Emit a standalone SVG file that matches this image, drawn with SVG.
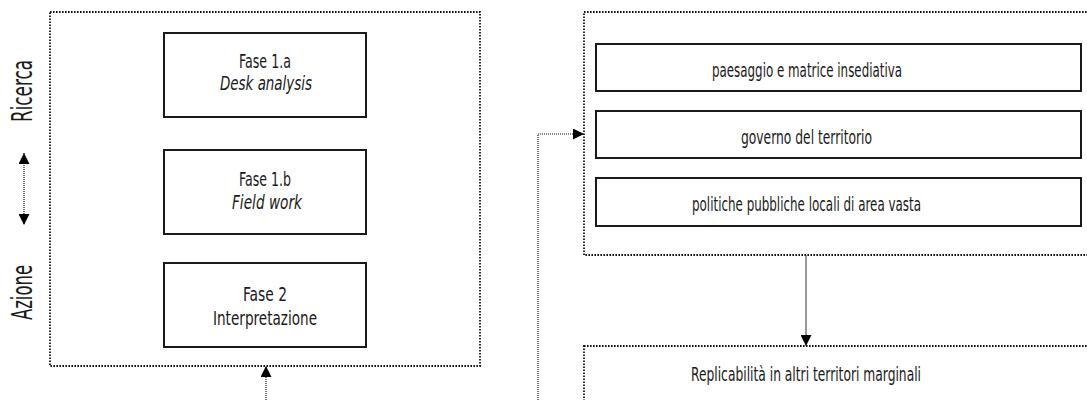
<svg xmlns="http://www.w3.org/2000/svg" width="1087" height="400" viewBox="0 0 1087 400">
<defs>
<style>
.grp{fill:none;stroke:#111;stroke-width:1.8;stroke-dasharray:1.6 1.4}
.box{fill:#fff;stroke:#1a1a1a;stroke-width:2}
.t{font-family:"Liberation Sans Narrow","DejaVu Sans Condensed","Liberation Sans",sans-serif;font-size:19px;fill:#1a1a1a;text-anchor:middle}
.it{font-style:italic}
.side{font-family:"Liberation Sans Narrow","DejaVu Sans Condensed","Liberation Sans",sans-serif;font-size:29px;fill:#1a1a1a;text-anchor:middle}
.dot{fill:none;stroke:#111;stroke-width:1.2;stroke-dasharray:1 1}
.sol{fill:none;stroke:#333;stroke-width:1}
</style>
<marker id="ah" viewBox="0 0 10 10" refX="10" refY="5" markerWidth="11" markerHeight="11" markerUnits="userSpaceOnUse" orient="auto-start-reverse">
<path d="M0,0 L10,5 L0,10 Z" fill="#000"/>
</marker>
</defs>
<rect width="1087" height="400" fill="#fff"/>

<g id="side-labels">
<text class="side" transform="translate(32,91) rotate(-90)" textLength="62" lengthAdjust="spacingAndGlyphs">Ricerca</text>
<text class="side" transform="translate(32,292.5) rotate(-90)" textLength="55" lengthAdjust="spacingAndGlyphs">Azione</text>
</g>

<g id="group-fasi">
<rect class="grp" x="50" y="12" width="430" height="354"/>
</g>
<g id="fase1a">
<rect class="box" x="164" y="33" width="202" height="84"/>
<text class="t" x="265" y="68" textLength="52" lengthAdjust="spacingAndGlyphs">Fase 1.a</text>
<text class="t it" x="266" y="90" textLength="92" lengthAdjust="spacingAndGlyphs">Desk analysis</text>
</g>
<g id="fase1b">
<rect class="box" x="164" y="150" width="202" height="84"/>
<text class="t" x="265" y="186" textLength="52" lengthAdjust="spacingAndGlyphs">Fase 1.b</text>
<text class="t it" x="267" y="209" textLength="70" lengthAdjust="spacingAndGlyphs">Field work</text>
</g>
<g id="fase2">
<rect class="box" x="164" y="263" width="202" height="84"/>
<text class="t" x="265" y="301" textLength="44" lengthAdjust="spacingAndGlyphs">Fase 2</text>
<text class="t" x="265" y="325" textLength="104" lengthAdjust="spacingAndGlyphs">Interpretazione</text>
</g>

<g id="group-temi">
<rect class="grp" x="584" y="12" width="510" height="243"/>
</g>
<g id="paesaggio">
<rect class="box" x="596" y="44" width="485" height="47"/>
<text class="t" x="807" y="77" textLength="190" lengthAdjust="spacingAndGlyphs">paesaggio e matrice insediativa</text>
</g>
<g id="governo">
<rect class="box" x="596" y="111" width="485" height="47"/>
<text class="t" x="806.5" y="144" textLength="131" lengthAdjust="spacingAndGlyphs">governo del territorio</text>
</g>
<g id="politiche">
<rect class="box" x="596" y="178" width="485" height="48"/>
<text class="t" x="806.5" y="211" textLength="229" lengthAdjust="spacingAndGlyphs">politiche pubbliche locali di area vasta</text>
</g>

<g id="replicabilita">
<rect class="grp" x="584" y="346" width="510" height="80"/>
<text class="t" x="806" y="381" textLength="230" lengthAdjust="spacingAndGlyphs">Replicabilità in altri territori marginali</text>
</g>

<g id="connectors">
<line class="dot" x1="24" y1="153" x2="24" y2="225" marker-start="url(#ah)" marker-end="url(#ah)"/>
<line class="dot" x1="266" y1="400" x2="266" y2="366" marker-end="url(#ah)"/>
<polyline class="dot" points="538,400 538,134 584,134" marker-end="url(#ah)"/>
<line class="sol" x1="806" y1="255" x2="806" y2="346" marker-end="url(#ah)"/>
</g>
</svg>
